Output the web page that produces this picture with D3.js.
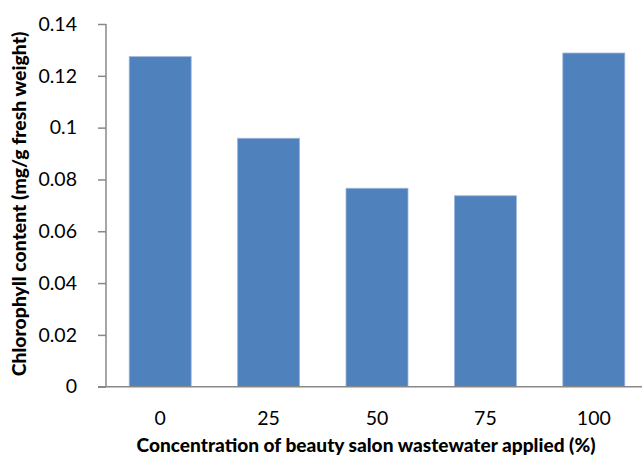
<!DOCTYPE html>
<html><head><meta charset="utf-8">
<script src="https://cdn.jsdelivr.net/npm/d3@7"></script>
<style>body{margin:0;background:#fff;} svg{display:block;}</style>
</head><body>
<svg id="c" width="642" height="455"></svg>
<script>
const categories = ["0", "25", "50", "75", "100"];
const values = [0.1274, 0.0959, 0.0766, 0.0737, 0.1288];
const yTicks = [0, 0.02, 0.04, 0.06, 0.08, 0.1, 0.12, 0.14];
const xTitle = "Concentration of beauty salon wastewater applied (%)";
const yTitle = "Chlorophyll content (mg/g fresh weight)";

(function () {
const svg = d3.select("#c");
const mLeft = 106, mRight = 648, mTop = 24, mBottom = 386.7;
const font = "Lato, 'Open Sans', sans-serif";

const x = d3.scaleBand().domain(categories).range([mLeft, mRight]).paddingInner(0.428).paddingOuter(0.214);
const y = d3.scaleLinear().domain([0, 0.14]).range([mBottom, mTop]);

svg.selectAll("rect.bar").data(values).join("rect")
  .attr("class", "bar")
  .attr("x", (d, i) => x(categories[i]))
  .attr("width", x.bandwidth())
  .attr("y", d => y(d))
  .attr("height", d => mBottom - y(d))
  .attr("fill", "#4F81BD")
  .attr("stroke", "#9DB8DC")
  .attr("stroke-width", 0.8);

const yAxis = d3.axisLeft(y).tickValues(yTicks).tickSize(8).tickPadding(21)
  .tickFormat(d => d === 0 ? "0" : String(+d.toFixed(2)));
const gy = svg.append("g").attr("transform", `translate(${mLeft},0)`).call(yAxis);
gy.select(".domain").attr("stroke", "#888").attr("stroke-width", 1.5).attr("d", `M0,${mTop}V${mBottom}`);
gy.selectAll(".tick line").attr("stroke", "#888").attr("stroke-width", 1.5);
gy.selectAll(".tick text").attr("font-family", font).attr("font-size", 19.5).attr("fill", "#000");

const xAxis = d3.axisBottom(x).tickSize(0).tickPadding(24);
const gx = svg.append("g").attr("transform", `translate(0,${mBottom})`).call(xAxis);
gx.select(".domain").attr("stroke", "#888").attr("stroke-width", 1.5).attr("d", `M${mLeft-8},0H${mRight}`);
gx.selectAll(".tick text").attr("font-family", font).attr("font-size", 19.5).attr("fill", "#000");

svg.append("text").attr("x", 366).attr("y", 452).attr("text-anchor", "middle")
  .attr("font-family", font).attr("font-weight", 900).attr("font-size", 19.1).text(xTitle);
svg.append("text").attr("transform", "translate(26,204) rotate(-90)").attr("text-anchor", "middle")
  .attr("font-family", font).attr("font-weight", 900).attr("font-size", 19.4).text(yTitle);
})();
</script>
</body></html>
